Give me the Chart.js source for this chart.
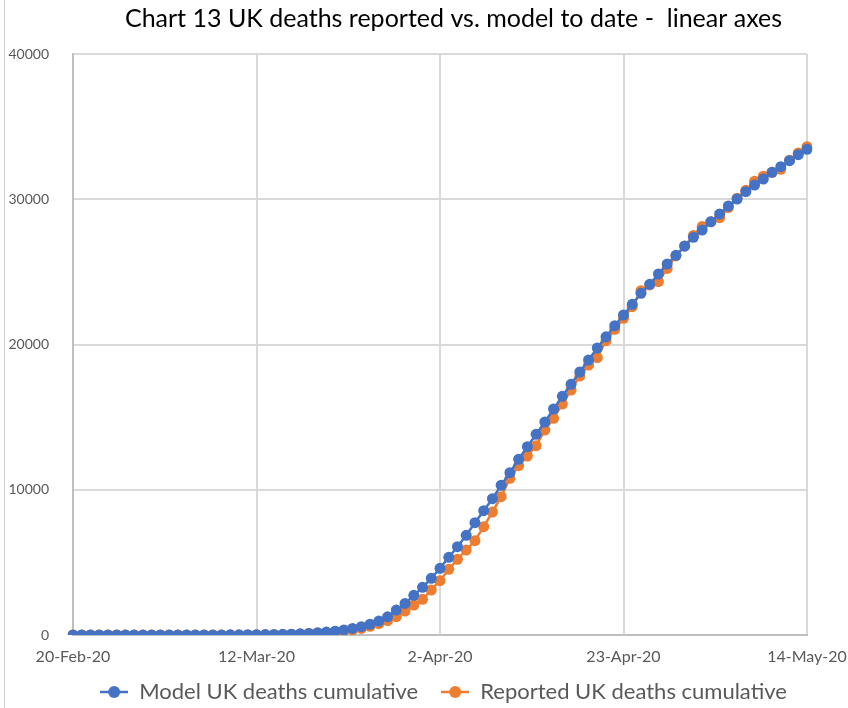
<!DOCTYPE html>
<html>
<head>
<meta charset="utf-8">
<script src="https://cdn.jsdelivr.net/npm/chart.js@4"></script>
<style>
  html, body { margin: 0; padding: 0; background: #fff; }
  #wrap { position: relative; width: 848px; height: 708px; }
  #frame { position: absolute; left: 4px; top: 0; width: 1px; height: 708px; background: #d0d0d0; }
</style>
</head>
<body>
<div id="wrap">
  <div id="frame"></div>
  <canvas id="chart" width="848" height="708"></canvas>
</div>
<script>
// --- Datos ---
const startDate = new Date(2020, 1, 20); // 20-Feb-20, un punto por día
const tickLabels = ['20-Feb-20', '12-Mar-20', '2-Apr-20', '23-Apr-20', '14-May-20'];

// Modelo: muertes acumuladas
const modelDeaths = [
    0, 0, 0, 0, 0, 0, 0, 0, 0, 0,                                  // 20-Feb .. 29-Feb
    0, 0, 0, 1, 2, 3, 5, 7, 10, 13,                                // 1-Mar .. 10-Mar
    17, 22, 29, 37, 48, 60, 80, 110, 150, 200,                     // 11-Mar .. 20-Mar
    265, 350, 450, 570, 740, 960, 1250, 1720, 2170, 2730,          // 21-Mar .. 30-Mar
    3284, 3904, 4592, 5349, 6079, 6864, 7731, 8558, 9384, 10310,   // 31-Mar .. 9-Apr
    11174, 12096, 12964, 13818, 14664, 15559, 16434, 17260, 18107, 18933, // 10-Apr .. 19-Apr
    19760, 20527, 21294, 22031, 22768, 23525, 24145, 24854, 25540, 26141, // 20-Apr .. 29-Apr
    26781, 27380, 27883, 28455, 28985, 29535, 30017, 30520, 30981, 31394, // 30-Apr .. 9-May
    31855, 32241, 32654, 33067, 33439                              // 10-May .. 14-May
];

// Reportadas: muertes acumuladas en el Reino Unido
const reportedDeaths = [
    0, 0, 0, 0, 0, 0, 0, 0, 0, 0,
    0, 0, 0, 0, 0, 1, 2, 3, 4, 6,
    8, 10, 10, 21, 35, 55, 71, 104, 144, 177,
    233, 290, 360, 450, 600, 780, 990, 1262, 1652, 2065,
    2455, 3098, 3740, 4521, 5210, 5852, 6494, 7458, 8468, 9522,
    10790, 11656, 12324, 13033, 14114, 14920, 15904, 16867, 17831, 18588,
    19100, 20260, 21050, 21800, 22600, 23700, 24100, 24330, 25240, 26097,
    26771, 27510, 28131, 28446, 28734, 29427, 30076, 30615, 31241, 31587,
    31855, 32065, 32692, 33186, 33614
];

const months = ['Jan','Feb','Mar','Apr','May','Jun','Jul','Aug','Sep','Oct','Nov','Dec'];
const dayLabels = modelDeaths.map((v, i) => {
    const d = new Date(startDate.getTime());
    d.setDate(d.getDate() + i);
    return d.getDate() + '-' + months[d.getMonth()] + '-20';
});

const BLUE = '#4472C4';
const ORANGE = '#ED7D31';
const FONT = 'Lato, "Open Sans", sans-serif';

// Icono de leyenda estilo Excel: línea con un círculo
function legendIcon(color) {
    const c = document.createElement('canvas');
    c.width = 28;
    c.height = 14;
    const g = c.getContext('2d');
    g.strokeStyle = color;
    g.lineWidth = 2.5;
    g.beginPath();
    g.moveTo(0, 7);
    g.lineTo(28, 7);
    g.stroke();
    g.fillStyle = color;
    g.beginPath();
    g.arc(14, 7, 6, 0, Math.PI * 2);
    g.fill();
    return c;
}
const icons = [legendIcon(BLUE), legendIcon(ORANGE)];

// Recoloca el título y la leyenda (en Excel no quedan centrados sobre el lienzo)
const shiftBlocks = {
    id: 'shiftBlocks',
    afterLayout(chart) {
        chart.titleBlock.left += 50;
        chart.titleBlock.right += 50;
        const lg = chart.legend;
        lg.left += 40;
        lg.right += 40;
        lg.top -= 18;
        lg.bottom -= 18;
        lg.adjustHitBoxes();
    }
};

new Chart(document.getElementById('chart'), {
    type: 'line',
    data: {
        labels: dayLabels,
        datasets: [{
            label: 'Model UK deaths cumulative',
            data: modelDeaths,
            borderColor: BLUE,
            backgroundColor: BLUE,
            borderWidth: 2.5,
            pointRadius: 5.5,
            pointBorderWidth: 0,
            pointHoverRadius: 5.5,
            tension: 0
        }, {
            label: 'Reported UK deaths cumulative',
            data: reportedDeaths,
            borderColor: ORANGE,
            backgroundColor: ORANGE,
            borderWidth: 2.5,
            pointRadius: 5.5,
            pointBorderWidth: 0,
            pointHoverRadius: 5.5,
            tension: 0
        }]
    },
    plugins: [shiftBlocks],
    options: {
        responsive: false,
        animation: false,
        layout: { padding: { left: 0, right: 41, top: 4, bottom: -23 } },
        scales: {
            x: {
                grid: { color: '#d9d9d9', lineWidth: 2, drawTicks: false },
                border: { color: '#bfbfbf', width: 2 },
                afterFit: scale => { scale.height = 41; scale.paddingLeft = 0; scale.paddingRight = 0; },
                ticks: {
                    autoSkip: false,
                    maxRotation: 0,
                    padding: 12,
                    color: '#595959',
                    font: { family: FONT, size: 16 },
                    callback: function (value, index) {
                        return index % 21 === 0 ? tickLabels[index / 21] : null;
                    }
                }
            },
            y: {
                min: 0,
                max: 40000,
                grid: { color: '#d9d9d9', lineWidth: 2, drawTicks: false },
                border: { color: '#bfbfbf', width: 2 },
                afterFit: scale => { scale.width = 73; },
                ticks: {
                    stepSize: 10000,
                    padding: 24,
                    color: '#595959',
                    font: { family: FONT, size: 14 },
                    callback: value => String(value)
                }
            }
        },
        plugins: {
            title: {
                display: true,
                text: 'Chart 13 UK deaths reported vs. model to date -  linear axes',
                color: '#000',
                font: { family: FONT, size: 25, weight: 'normal' },
                padding: { top: 0, bottom: 20 }
            },
            legend: {
                position: 'bottom',
                labels: {
                    usePointStyle: true,
                    pointStyleWidth: 28,
                    boxHeight: 14,
                    color: '#595959',
                    font: { family: FONT, size: 22 },
                    padding: 23,
                    generateLabels: chart => {
                        const items = Chart.defaults.plugins.legend.labels.generateLabels(chart);
                        items.forEach((it, i) => { it.pointStyle = icons[i]; });
                        return items;
                    }
                }
            },
            tooltip: { enabled: false }
        }
    }
});
</script>
</body>
</html>
